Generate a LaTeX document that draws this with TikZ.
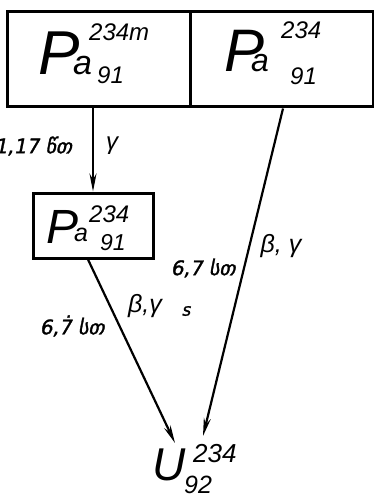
\documentclass[tikz,border=0pt]{standalone}
\usepackage{fontspec}
\setmainfont{Liberation Sans}
\newfontfamily\geo[FakeSlant=0.2,FakeBold=1.5]{DejaVu Sans}
\usetikzlibrary{arrows.meta}
\tikzset{
  box/.style={draw,line width=3pt,inner sep=0pt,rectangle},
  conn/.style={line width=2.2pt},
  arr/.style={conn,-{Stealth[length=18pt,width=7pt]}},
  sym/.style={inner sep=0pt,font=\itshape},
  lbl/.style={inner sep=0pt,font=\geo},
}
\newcommand\fs[1]{\fontsize{#1}{#1}\selectfont}
\begin{document}
\begin{tikzpicture}[x=1pt,y=-1pt]
\useasboundingbox (0,0) rectangle (374,497);
\clip (0,0) rectangle (374,497);
% boxes
\node[box,minimum width=183pt,minimum height=95pt] (topL) at (98.5,59.5) {};
\node[box,minimum width=183pt,minimum height=95pt] (topR) at (281.5,59.5) {};
\node[box,minimum width=120pt,minimum height=65pt] (small) at (93,225.5) {};
% nuclide symbols: top left
\node[sym,anchor=base west,font=\itshape\fs{62}] (pL) at (38,75) {P};
\node[sym,anchor=base west,font=\itshape\fs{34}] (aL) at (73,75) {a};
\node[sym,anchor=base west,font=\itshape\fs{24}] (supL) at (89,41) {234m};
\node[sym,anchor=base west,font=\itshape\fs{24}] (subL) at (97,84) {91};
% top right
\node[sym,anchor=base west,font=\itshape\fs{60}] (pR) at (224,72) {P};
\node[sym,anchor=base west,font=\itshape\fs{32}] (aR) at (251,72) {a};
\node[sym,anchor=base west,font=\itshape\fs{24}] (supR) at (281,39) {234};
\node[sym,anchor=base west,font=\itshape\fs{24}] (subR) at (290,85) {91};
% small box
\node[sym,anchor=base west,font=\itshape\fs{48}] (pS) at (46,243) {P};
\node[sym,anchor=base west,font=\itshape\fs{25}] (aS) at (74,241) {a};
\node[sym,anchor=base west,font=\itshape\fs{24}] (supS) at (89,222) {234};
\node[sym,anchor=base west,font=\itshape\fs{23}] (subS) at (100,250) {91};
% uranium
\node[sym,anchor=base west,font=\itshape\fs{46}] (uU) at (152,480) {U};
\node[sym,anchor=base west,font=\itshape\fs{26}] (supU) at (193,462) {234};
\node[sym,anchor=base west,font=\itshape\fs{25}] (subU) at (184,493) {92};
\coordinate (uR) at (203,436);
\coordinate (uL) at (175,443);
% connectors
\draw[arr] (small.north |- topL.south) -- (small.north);
\draw[arr] ([xshift=1.5pt]topR.south) -- (uR);
\draw[arr] ([xshift=-5pt]small.south) -- (uL);
% labels
\node[lbl,anchor=east,font=\geo\fs{20}] (t1) at (72,146) {1,17 წთ};
\node[sym,font=\itshape\fs{24}] (g1) at (112,146) {γ};
\node[lbl,font=\geo\fs{20}] (t2) at (203,268) {6,7 სთ};
\node[sym,font=\itshape\fs{25}] (bg1) at (281,246) {β, γ};
\node[sym,font=\itshape\fs{25}] (bg2) at (145,306) {β,γ};
\node[lbl,font=\geo\fs{17}] (s1) at (186,311) {s};
\node[lbl,font=\geo\fs{20}] (t3) at (72,326) {6,7̇ სთ};
\end{tikzpicture}
\end{document}
